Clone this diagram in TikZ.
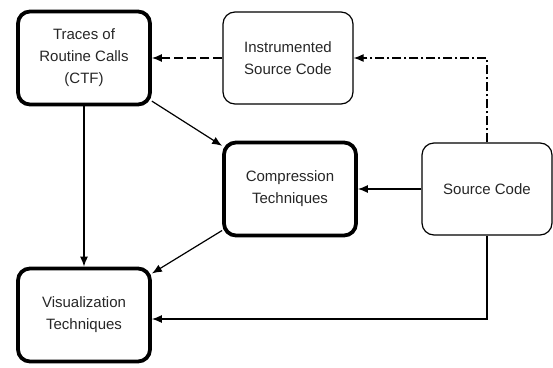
\documentclass[tikz,border=0pt]{standalone}
\usepackage{fontspec}
\setmainfont{Liberation Sans}
\usepackage{tikz}
\usetikzlibrary{arrows.meta}
\tikzstyle{heavybox} = [rectangle, rounded corners=12pt, minimum width=132pt, minimum height=93pt, text centered, align=center, draw=black, line width=3.8pt, inner sep=2pt, font=\fontsize{15}{22}\selectfont, text=black!85]
\tikzstyle{lightbox} = [rectangle, rounded corners=12pt, minimum width=130pt, minimum height=92pt, text centered, align=center, draw=black, line width=1.2pt, inner sep=2pt, font=\fontsize{15}{22}\selectfont, text=black!85]
\tikzstyle{arrow} = [line width=1.2pt,-{Latex[length=10pt,width=8pt]}]
\tikzstyle{dasharrow} = [arrow, dash pattern=on 9pt off 4pt]
\tikzstyle{dashdotarrow} = [arrow, dash pattern=on 9pt off 3pt on 2pt off 3pt]

\begin{document}
\begin{tikzpicture}[node distance=204pt]

\useasboundingbox (-84pt,58pt) rectangle (469pt,-309pt);

% Top row nodes
\node (traces) [heavybox] {Traces of\\Routine Calls\\(CTF)};
\node (instr) [lightbox, right of=traces] {Instrumented\\Source Code};

% Middle row nodes
\node (compress) [heavybox, below of=instr, xshift=2pt, yshift=73pt] {Compression\\Techniques};
\node (source) [lightbox, right of=compress, xshift=-7pt] {Source Code};

% Bottom node
\node (visual) [heavybox, below of=traces, yshift=-53pt] {Visualization\\Techniques};

% Drawing arrows
\draw [dasharrow] (instr) -- (traces);
\draw [dashdotarrow] (source.north) |- (instr);
\draw [arrow] (source) -- (compress);
\draw [arrow] (traces) -- (compress);
\draw [arrow] (traces) -- (visual);
\draw [arrow] (compress) -- (visual);
\draw [arrow] (source.south) |- ([yshift=-4pt]visual.east);

\end{tikzpicture}
\end{document}
